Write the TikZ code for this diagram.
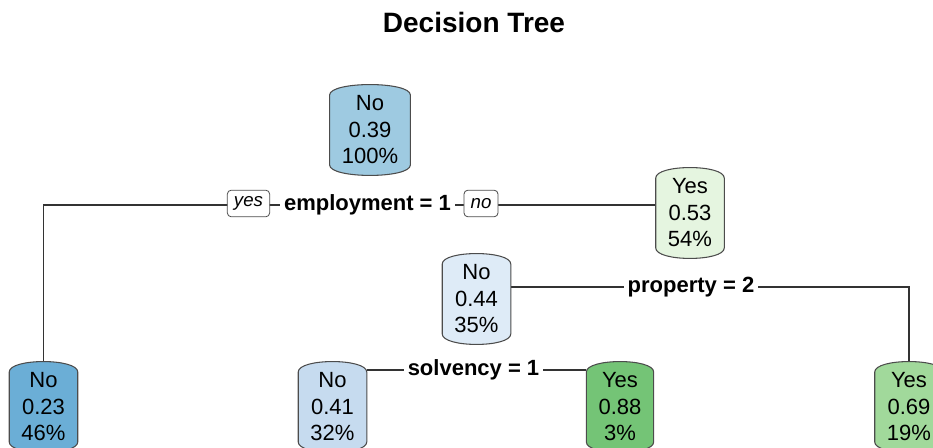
\documentclass[tikz,border=0pt]{standalone}
\usepackage{fontspec}
\setmainfont{Liberation Sans}
\usetikzlibrary{positioning,backgrounds}
\definecolor{blA}{RGB}{158,202,225}
\definecolor{blB}{RGB}{107,174,214}
\definecolor{blC}{RGB}{222,235,247}
\definecolor{blD}{RGB}{198,219,239}
\definecolor{grA}{RGB}{229,245,224}
\definecolor{grB}{RGB}{116,196,118}
\definecolor{grC}{RGB}{161,217,155}
\tikzset{
  leaf/.style={align=center, minimum width=48pt, minimum height=66pt,
               inner xsep=9pt, font=\fontsize{16.5}{19.9}\selectfont},
  barline/.style={draw=black!70, line width=0.8pt},
  link/.style={draw=black!80, line width=0.8pt},
  split/.style={fill=white, inner xsep=3pt, inner ysep=1pt,
                font=\fontsize{16.5}{19.9}\selectfont\bfseries},
  tag/.style={draw=black!70, line width=0.6pt, rounded corners=3pt, fill=white,
              minimum height=20pt, inner xsep=5pt, inner ysep=0pt,
              font=\fontsize{14}{16}\selectfont\itshape},
  ttl/.style={font=\fontsize{21}{25}\selectfont\bfseries},
}
% barrel outline behind a leaf node
\newcommand{\barrel}[2]{%
  \path[barline, fill=#2]
    ([yshift=7pt]#1.south west) -- ([yshift=-7pt]#1.north west)
    .. controls ([yshift=3.5pt]#1.north west) and ([yshift=3.5pt]#1.north east) .. ([yshift=-7pt]#1.north east)
    -- ([yshift=7pt]#1.south east)
    .. controls ([yshift=-3.5pt]#1.south east) and ([yshift=-3.5pt]#1.south west) .. cycle;}
\begin{document}
\begin{tikzpicture}[x=0.75pt,y=-0.75pt]
  \useasboundingbox (0,0) rectangle (933,448);
  \node[ttl] (title) at (474,22.5) {Decision Tree};

  \node[leaf] (root) at (370,130) {No\\0.39\\100\%};
  \node[leaf] (yes53) at (690,213) {Yes\\0.53\\54\%};
  \node[leaf] (no44) at (476.5,299) {No\\0.44\\35\%};
  \node[leaf] (no23) at (43.5,407) {No\\0.23\\46\%};
  \node[leaf] (no41) at (332.5,407) {No\\0.41\\32\%};
  \node[leaf] (yes88) at (620,407) {Yes\\0.88\\3\%};
  \node[leaf] (yes69) at (909,407) {Yes\\0.69\\19\%};

  \node[split] (spemp) at (367.5,205) {employment = 1};
  \node[split] (spprop) at (691,287) {property = 2};
  \node[split] (spsolv) at (473.5,370) {solvency = 1};
  \node[tag] (tyes) at (248.5,203.5) {yes};
  \node[tag] (tno) at (481,203.5) {no};

  \begin{scope}[on background layer]
    \draw[link] (no23.north) |- (yes53.west |- spemp.center);
    \draw[link] (no44.east |- spprop.center) -| (yes69.north);
    \draw[link] (no41.east |- spsolv.center) -- (yes88.west |- spsolv.center);
    \barrel{root}{blA}
    \barrel{yes53}{grA}
    \barrel{no44}{blC}
    \barrel{no23}{blB}
    \barrel{no41}{blD}
    \barrel{yes88}{grB}
    \barrel{yes69}{grC}
  \end{scope}
\end{tikzpicture}
\end{document}
